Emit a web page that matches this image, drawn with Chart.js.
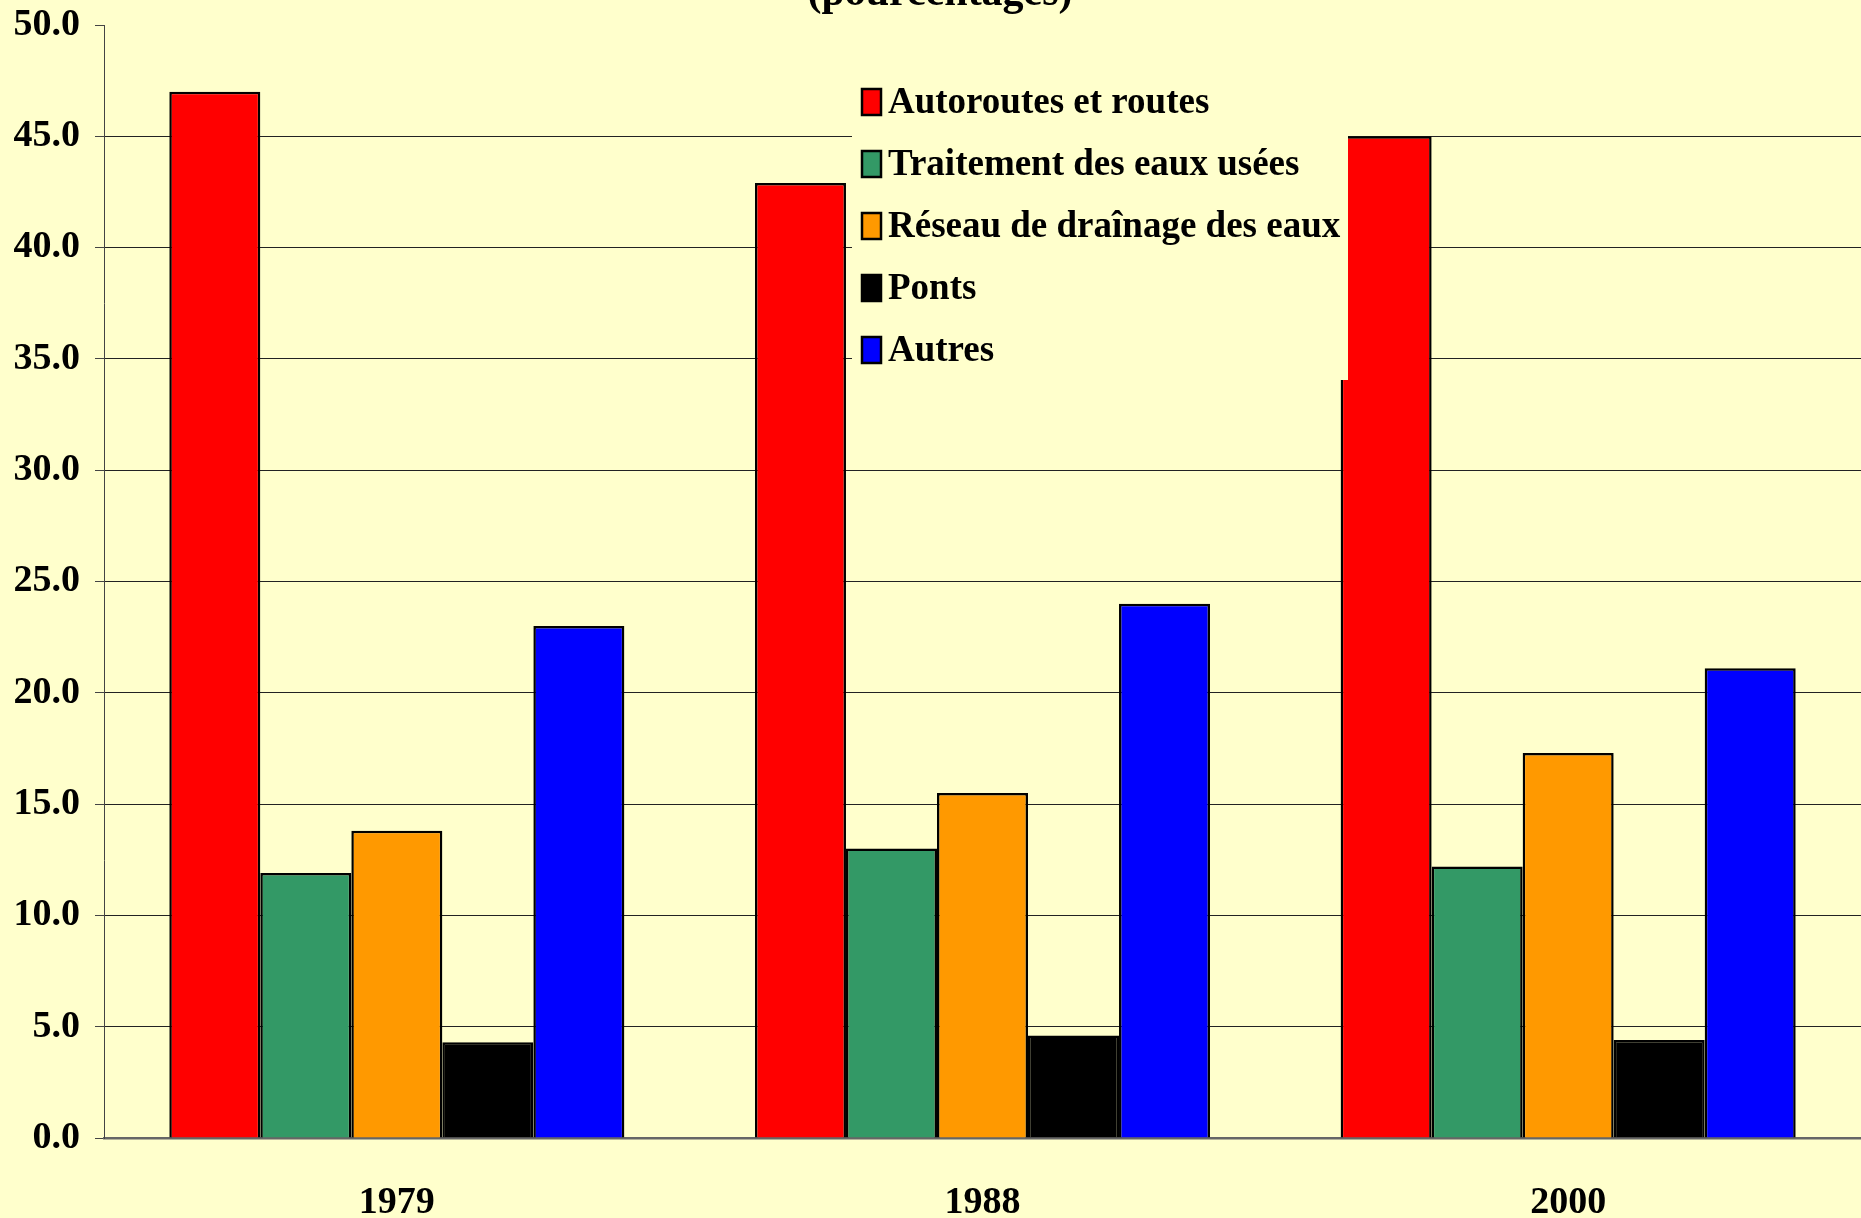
<!DOCTYPE html>
<html>
<head>
<meta charset="utf-8">
<script src="https://cdn.jsdelivr.net/npm/chart.js@4/dist/chart.umd.min.js"></script>
<style>
  html, body { margin: 0; padding: 0; background: #FFFFCC; }
  #wrap { width: 1861px; height: 1218px; }
</style>
</head>
<body>
<div id="wrap"><canvas id="chart"></canvas></div>
<script>
// données (pourcentages)
const years = ['1979', '1988', '2000'];
const seriesNames = [
  'Autoroutes et routes',
  'Traitement des eaux usées',
  'Réseau de draînage des eaux',
  'Ponts',
  'Autres'
];
const autoroutes = [47.0, 42.9, 45.0];
const eauxUsees  = [11.9, 13.0, 12.2];
const drainage   = [13.8, 15.5, 17.3];
const ponts      = [4.3, 4.6, 4.4];
const autres     = [23.0, 24.0, 21.1];
const seriesColors = ['#FF0000', '#339966', '#FF9900', '#000000', '#0000FF'];

const tickFont = { family: '"Liberation Serif", serif', weight: 'bold', size: 38 };

// fond jaune pâle + titre coupé en haut
const backdrop = {
  id: 'backdrop',
  beforeDraw(chart) {
    const c = chart.ctx;
    c.save();
    c.fillStyle = '#FFFFCC';
    c.fillRect(0, 0, chart.width, chart.height);
    c.fillStyle = '#000';
    c.font = 'bold 42px "Liberation Serif", serif';
    c.textAlign = 'center';
    c.textBaseline = 'alphabetic';
    c.fillText('(pourcentages)', 940, 5);
    c.restore();
  }
};

// légende posée par-dessus la zone de tracé
const boxLegend = {
  id: 'boxLegend',
  afterDatasetsDraw(chart) {
    const c = chart.ctx;
    c.save();
    c.fillStyle = '#FFFFCC';
    c.fillRect(852, 62, 496, 318);
    c.font = 'bold 37px "Liberation Serif", serif';
    c.textBaseline = 'middle';
    c.textAlign = 'left';
    chart.data.datasets.forEach((ds, i) => {
      const cy = 102 + i * 62;
      c.fillStyle = ds.backgroundColor;
      c.fillRect(861, cy - 14, 21, 28);
      c.lineWidth = 2.5;
      c.strokeStyle = '#000';
      c.strokeRect(862, cy - 13, 19, 26);
      c.fillStyle = '#000';
      c.fillText(ds.label, 888, cy + 1);
    });
    c.restore();
  }
};

const values = [autoroutes, eauxUsees, drainage, ponts, autres];

new Chart(document.getElementById('chart'), {
  type: 'bar',
  data: {
    labels: years,
    datasets: seriesNames.map((name, i) => ({
      label: name,
      data: values[i],
      backgroundColor: seriesColors[i],
      borderColor: '#000',
      borderWidth: 2.5,
      barPercentage: 1,
      categoryPercentage: 0.777
    }))
  },
  options: {
    responsive: true,
    maintainAspectRatio: false,
    animation: false,
    layout: { padding: { top: 25, left: 0, right: 0, bottom: 0 } },
    plugins: {
      legend: { display: false },
      tooltip: { enabled: false }
    },
    scales: {
      x: {
        grid: { display: false },
        border: { display: true, color: '#666', width: 2.5 },
        ticks: { color: '#000', font: tickFont, padding: 34 },
        afterFit: (s) => { s.height = 80; }
      },
      y: {
        min: 0,
        max: 50,
        ticks: {
          stepSize: 5,
          color: '#000',
          font: tickFont,
          padding: 15,
          callback: (v) => v.toFixed(1)
        },
        grid: {
          color: (ctx) => (ctx.tick && (ctx.tick.value === 50) ? 'rgba(0,0,0,0)' : (ctx.tick && ctx.tick.value === 0 ? '#666' : '#222')),
          tickColor: '#444',
          tickLength: 9,
          lineWidth: 1
        },
        border: { display: true, color: '#444', width: 1 },
        afterFit: (s) => { s.width = 104; s.paddingTop = 0; s.paddingBottom = 0; }
      }
    }
  },
  plugins: [backdrop, boxLegend]
});
</script>
</body>
</html>
